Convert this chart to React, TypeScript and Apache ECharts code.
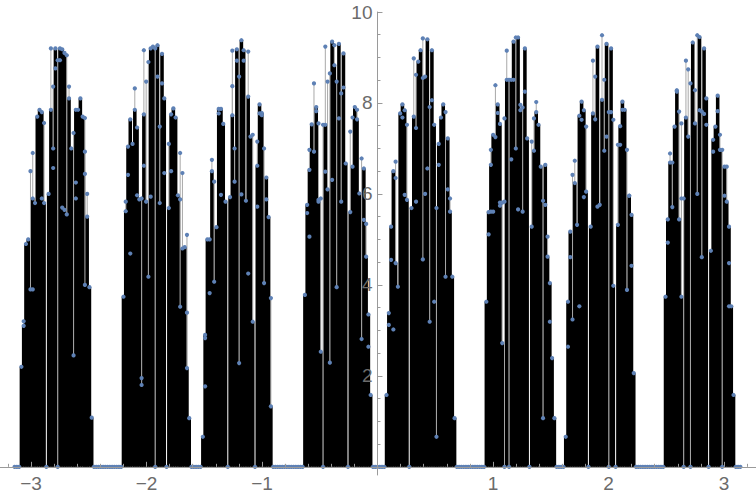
import React, { useEffect, useRef } from "react";
import * as echarts from "echarts";

// DiscretePlot sampled on a grid of step π/160 over [-π, π]
const STEPS = 320;
const STEP = (Math.PI / STEPS) * 2;

// first grid index of each cluster of non-zero values
const clusterStarts = [3, 48, 83, 128, 164, 208, 243, 287];

// body (envelope) values per grid index inside each cluster
const c1 = [2.2, 3.1, 4.9, 5.0, 3.9, 5.9, 5.8, 7.7, 7.85, 7.8, 5.8, 0, 6.0, 7.85, 7.0, 9.2, 0, 9.2, 9.18, 9.1, 5.55, 8.1, 7.0, 2.45, 7.85, 7.85, 8.1, 7.7, 4.0, 5.5, 3.95, 1.08];
const c2 = [3.74, 5.62, 7.04, 7.64, 7.1, 7.85, 7.46, 5.88, 1.8, 7.75, 5.83, 4.18, 9.2, 9.24, 0, 9.27, 5.8, 9.08, 8.1, 0, 5.69, 7.75, 7.88, 7.68, 5.97, 3.52, 4.8, 4.83, 2.17, 1.07];
const c3 = [0.66, 2.9, 5.0, 5.0, 6.5, 4.07, 5.27, 7.87, 7.87, 7.54, 5.83, 0, 5.93, 7.73, 6.27, 9.18, 2.28, 9.38, 9.16, 5.85, 8.14, 7.26, 3.19, 0, 6.62, 7.97, 7.78, 4.04, 6.36, 5.49, 1.33];
const c4 = [3.78, 5.76, 6.53, 7.53, 6.93, 7.91, 5.83, 2.53, 0, 7.52, 6.1, 2.29, 9.35, 8.83, 3.95, 9.3, 5.83, 9.09, 6.67, 0, 5.6, 6.6, 7.91, 7.64, 6.01, 2.81, 6.56, 4.62, 3.35, 1.58];
const c5 = [1.58, 3.38, 5.28, 6.5, 4.48, 3.96, 7.77, 7.97, 7.84, 5.87, 0, 5.69, 7.7, 7.45, 8.91, 9.16, 4.56, 8.58, 9.4, 3.19, 9.16, 7.52, 0.66, 7.1, 7.68, 7.97, 4.18, 7.22, 5.61, 4.18, 1.07];
const c6 = [3.63, 5.6, 6.64, 7.3, 7.25, 7.97, 7.54, 2.72, 0, 8.51, 0, 8.51, 9.35, 7.0, 9.44, 7.84, 5.61, 9.2, 7.22, 0, 5.28, 6.95, 7.8, 7.52, 6.6, 1.07, 6.64, 4.62, 4.04, 2.39, 1.07];
const c7 = [0.66, 3.63, 5.17, 3.24, 6.24, 5.32, 7.72, 8.03, 7.84, 6.05, 0, 5.28, 7.77, 7.64, 9.24, 5.76, 8.07, 6.95, 9.3, 0, 9.2, 3.98, 0, 5.32, 7.49, 8.03, 7.85, 3.89, 5.96, 5.54, 2.06];
const c8 = [3.74, 5.44, 6.69, 5.71, 7.48, 8.28, 5.44, 3.74, 0, 7.68, 7.26, 0, 9.33, 7.55, 6.0, 9.45, 4.61, 9.2, 8.1, 0, 4.75, 7.19, 7.48, 8.16, 6.97, 0, 6.6, 5.83, 5.28, 3.53, 1.58];
const clusterBodies = [c1, c2, c3, c4, c5, c6, c7, c8];

// further points [offset in cluster, value] (thin stems that stick out, or dots inside the black)
const e1 = [[1, 3.2], [4, 6.5], [5, 6.9], [5, 3.9], [9, 5.9], [10, 7.56], [13, 9.2], [14, 8.36], [14, 6.57], [15, 8.76], [16, 8.94], [17, 8.94], [18, 5.7], [19, 5.65], [20, 9.05], [21, 8.36], [23, 7.34], [24, 5.9], [24, 6.25], [28, 7.67], [28, 6.93], [28, 6.44], [29, 6.0]];
const e2 = [[1, 5.83], [2, 6.42], [3, 4.69], [5, 8.32], [6, 5.97], [8, 1.95], [8, 5.9], [9, 9.16], [9, 6.62], [10, 8.47], [11, 8.9], [12, 5.94], [14, 9.2], [15, 8.58], [16, 7.48], [17, 8.43], [18, 6.46], [20, 7.1], [21, 6.5], [25, 6.9], [25, 5.88], [26, 6.46], [28, 5.1], [28, 3.39]];
const e3 = [[1, 1.77], [1, 2.83], [3, 3.82], [4, 6.75], [5, 6.27], [7, 7.77], [8, 5.98], [13, 9.15], [13, 8.37], [14, 7.0], [15, 8.93], [16, 8.58], [17, 5.99], [18, 8.93], [20, 9.13], [20, 4.25], [22, 7.3], [24, 7.15], [24, 5.72], [25, 7.77], [26, 7.73], [27, 7.0], [28, 5.88], [30, 3.71]];
const e4 = [[1, 5.58], [2, 5.06], [2, 6.97], [4, 8.43], [5, 7.82], [6, 7.55], [6, 5.87], [7, 5.9], [8, 7.52], [9, 6.49], [9, 9.24], [10, 8.47], [11, 8.65], [12, 6.31], [13, 9.27], [14, 8.47], [15, 7.66], [16, 8.21], [17, 8.34], [20, 7.37], [21, 7.68], [23, 7.85], [25, 6.78], [26, 5.43], [27, 5.34], [28, 2.64]];
const e5 = [[1, 3.12], [2, 4.55], [3, 3.02], [4, 6.71], [4, 6.35], [7, 7.68], [8, 5.98], [9, 7.52], [12, 8.98], [13, 8.62], [13, 5.83], [16, 9.42], [16, 8.55], [17, 6.0], [18, 6.56], [19, 7.91], [20, 8.06], [21, 3.63], [22, 5.69], [23, 6.64], [26, 7.8], [27, 6.1], [28, 5.9]];
const e6 = [[1, 5.11], [2, 6.97], [2, 5.61], [3, 5.61], [4, 8.39], [5, 7.78], [6, 5.74], [6, 5.81], [7, 5.81], [8, 7.66], [8, 5.83], [9, 9.15], [10, 8.51], [11, 6.76], [12, 8.51], [13, 9.44], [14, 5.66], [15, 7.96], [16, 7.9], [17, 8.25], [20, 7.15], [21, 7.66], [22, 8.02], [25, 5.85], [26, 5.76], [27, 5.06], [28, 3.19]];
const e7 = [[1, 2.64], [2, 4.61], [3, 6.42], [4, 6.73], [6, 3.53], [7, 7.63], [8, 5.93], [9, 7.48], [12, 8.93], [13, 8.58], [14, 5.72], [16, 9.49], [17, 8.51], [18, 7.26], [19, 7.8], [20, 7.8], [21, 7.63], [23, 7.08], [24, 7.08], [25, 7.85], [27, 6.97], [28, 5.96], [29, 4.42]];
const e8 = [[1, 4.93], [2, 6.89], [3, 6.69], [5, 8.25], [6, 7.81], [7, 7.55], [7, 5.9], [8, 5.9], [9, 8.93], [10, 8.74], [11, 8.43], [13, 8.28], [14, 9.49], [15, 7.84], [16, 7.81], [17, 7.76], [18, 7.52], [21, 6.93], [23, 7.82], [24, 7.3], [25, 6.97], [26, 5.96], [27, 6.6], [28, 4.48], [28, 3.53]];
const clusterExtras = [e1, e2, e3, e4, e5, e6, e7, e8];

// tick labels and tick positions
const xLabels = [-3, -2, -1, 1, 2, 3];
const xMinorTicks = [-3.2, -2.8, -2.6, -2.4, -2.2, -1.8, -1.6, -1.4, -1.2, -0.8, -0.6, -0.4, -0.2, 0.2, 0.4, 0.6, 0.8, 1.2, 1.4, 1.6, 1.8, 2.2, 2.4, 2.6, 2.8, 3.2];
const yLabels = [2, 4, 6, 8, 10];
const yMinorTicks = [0.5, 1, 1.5, 2.5, 3, 3.5, 4.5, 5, 5.5, 6.5, 7, 7.5, 8.5, 9, 9.5];

const XMIN = -3.268;
const XMAX = 3.277;
const YMIN = -0.18;
const YMAX = 10;

const W = 756;
const H = 499;
const GRID_TOP = 12;
const GRID_BOTTOM = 24;
// pixel offsets that move the axes onto x = 0 and y = 0
const Y_AXIS_SHIFT = -(W * (0 - XMIN)) / (XMAX - XMIN);
const X_AXIS_SHIFT = -((H - GRID_TOP - GRID_BOTTOM) * (0 - YMIN)) / (YMAX - YMIN);

const AXIS_COLOR = "#9a9a9a";
const LABEL_COLOR = "#6b6b6b";
const DOT_COLOR = "#5E81B5";
const FONT = "'Liberation Sans', Arial, sans-serif";

function buildData() {
  const values: number[] = new Array(STEPS + 1).fill(0);
  clusterStarts.forEach((s, k) => {
    clusterBodies[k].forEach((v, o) => {
      values[s + o] = v;
    });
  });
  const body = values.map((v, i) => [-Math.PI + i * STEP, v]);
  const extras: number[][] = [];
  clusterExtras.forEach((list, k) => {
    list.forEach(([o, v]) => {
      extras.push([-Math.PI + (clusterStarts[k] + o) * STEP, v]);
    });
  });
  return { body, extras };
}

const minus = (v: number) => (v < 0 ? "\u2212" + Math.abs(v) : String(v));

export default function App() {
  const ref = useRef<HTMLDivElement>(null);
  useEffect(() => {
    if (!ref.current) return;
    const chart = echarts.init(ref.current, undefined, { renderer: "svg" });
    const { body, extras } = buildData();
    const option: any = {
      animation: false,
      backgroundColor: "#ffffff",
      grid: { left: 0, right: 0, top: GRID_TOP, bottom: GRID_BOTTOM, containLabel: false, outerBoundsMode: "none" },
      xAxis: [
        {
          type: "value",
          min: XMIN,
          max: XMAX,
          position: "bottom",
          offset: X_AXIS_SHIFT,
          z: 5,
          axisLine: { show: true, onZero: false, lineStyle: { color: AXIS_COLOR, width: 1 } },
          axisTick: { show: true, inside: true, length: 5, customValues: xLabels, lineStyle: { color: AXIS_COLOR } },
          axisLabel: {
            show: true,
            customValues: xLabels,
            formatter: minus,
            color: LABEL_COLOR,
            fontSize: 19,
            fontFamily: FONT,
            margin: 7,
          },
          splitLine: { show: false },
        },
        {
          type: "value",
          min: XMIN,
          max: XMAX,
          position: "bottom",
          offset: X_AXIS_SHIFT,
          z: 5,
          axisLine: { show: false, onZero: false },
          axisTick: { show: true, inside: true, length: 3, customValues: xMinorTicks, lineStyle: { color: AXIS_COLOR } },
          axisLabel: { show: false },
          splitLine: { show: false },
        },
      ],
      yAxis: [
        {
          type: "value",
          min: YMIN,
          max: YMAX,
          position: "left",
          offset: Y_AXIS_SHIFT,
          z: 5,
          axisLine: { show: true, onZero: false, lineStyle: { color: AXIS_COLOR, width: 1 } },
          axisTick: { show: true, inside: true, length: 5, customValues: yLabels, lineStyle: { color: AXIS_COLOR } },
          axisLabel: {
            show: true,
            customValues: yLabels,
            color: LABEL_COLOR,
            fontSize: 19,
            fontFamily: FONT,
            margin: 5,
          },
          splitLine: { show: false },
        },
        {
          type: "value",
          min: YMIN,
          max: YMAX,
          position: "left",
          offset: Y_AXIS_SHIFT,
          z: 5,
          axisLine: { show: false, onZero: false },
          axisTick: { show: true, inside: true, length: 3, customValues: yMinorTicks, lineStyle: { color: AXIS_COLOR } },
          axisLabel: { show: false },
          splitLine: { show: false },
        },
      ],
      series: [
        {
          name: "stems",
          type: "custom",
          xAxisIndex: 0,
          yAxisIndex: 0,
          z: 1,
          data: extras,
          renderItem: (_p: any, api: any) => {
            const x = api.value(0);
            const y = api.value(1);
            const a = api.coord([x, 0]);
            const b = api.coord([x, y]);
            return {
              type: "line",
              shape: { x1: a[0], y1: a[1], x2: b[0], y2: b[1] },
              style: { stroke: "#a8a8a8", lineWidth: 1 },
            };
          },
        },
        {
          name: "body",
          type: "custom",
          xAxisIndex: 0,
          yAxisIndex: 0,
          z: 2,
          data: body,
          renderItem: (_p: any, api: any) => {
            const x = api.value(0);
            const y = api.value(1);
            if (!(y > 0)) return null;
            const a = api.coord([x - STEP * 0.78, y]);
            const b = api.coord([x + STEP * 0.78, 0]);
            return {
              type: "rect",
              shape: { x: a[0], y: a[1], width: b[0] - a[0], height: b[1] - a[1] },
              style: { fill: "#000000" },
            };
          },
        },
        {
          name: "points",
          type: "scatter",
          xAxisIndex: 0,
          yAxisIndex: 0,
          z: 3,
          symbol: "circle",
          symbolSize: 4.2,
          itemStyle: { color: DOT_COLOR, opacity: 1 },
          data: body.concat(extras),
        },
      ],
    };
    chart.setOption(option);
    return () => chart.dispose();
  }, []);
  return (
    <div
      ref={ref}
      style={{ position: "fixed", left: 0, top: 0, width: W, height: H, background: "#fff" }}
    />
  );
}
